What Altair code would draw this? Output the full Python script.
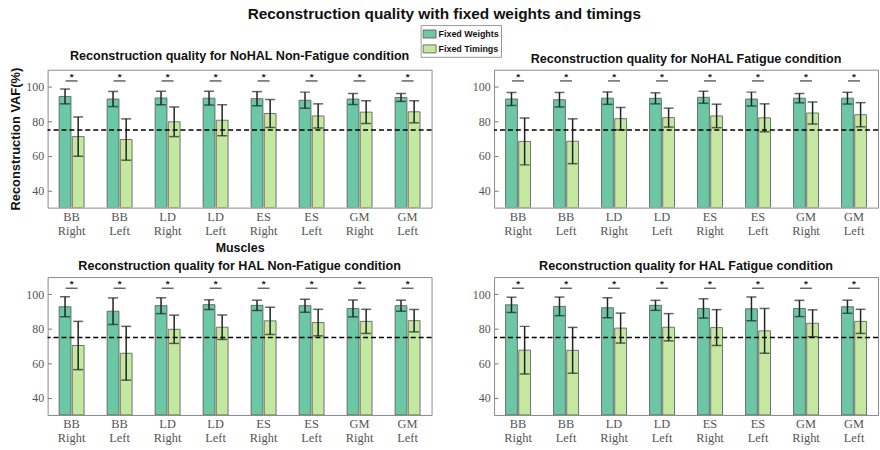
import altair as alt
import pandas as pd

# ---- data -------------------------------------------------------------
muscles = ["BB Right", "BB Left", "LD Right", "LD Left",
           "ES Right", "ES Left", "GM Right", "GM Left"]
series = ["Fixed Weights", "Fixed Timings"]
series_colors = ["#6cc8a4", "#c4e8a0"]
threshold = 75

# NoHAL, non-fatigue
nohal_nf_fw = [94.5, 93.0, 93.6, 93.5, 93.2, 92.3, 93.0, 93.9]
nohal_nf_fw_sd = [4.3, 4.4, 3.9, 4.0, 4.1, 4.7, 3.2, 2.3]
nohal_nf_ft = [71.2, 69.5, 79.8, 80.7, 84.6, 83.2, 85.4, 85.6]
nohal_nf_ft_sd = [11.4, 12.0, 8.6, 9.0, 8.1, 7.0, 6.6, 6.4]

# NoHAL, fatigue
nohal_f_fw = [93.0, 92.6, 93.5, 93.4, 94.0, 93.0, 93.5, 93.5]
nohal_f_fw_sd = [3.8, 4.2, 3.6, 3.2, 3.5, 4.0, 2.7, 3.4]
nohal_f_ft = [68.4, 68.5, 81.6, 82.2, 83.2, 82.1, 84.9, 83.9]
nohal_f_ft_sd = [13.6, 13.0, 6.5, 5.5, 6.8, 8.1, 6.4, 7.0]

# HAL, non-fatigue
hal_nf_fw = [92.8, 90.2, 93.4, 94.0, 93.6, 93.4, 91.8, 93.4]
hal_nf_fw_sd = [5.8, 7.7, 4.6, 2.8, 3.0, 3.8, 4.9, 3.2]
hal_nf_ft = [70.3, 65.8, 79.7, 80.9, 84.6, 83.6, 84.3, 84.7]
hal_nf_ft_sd = [14.0, 15.6, 8.2, 7.1, 7.9, 7.7, 7.0, 6.5]

# HAL, fatigue
hal_f_fw = [93.9, 93.0, 92.2, 93.6, 91.8, 91.6, 91.8, 92.8]
hal_f_fw_sd = [4.4, 5.4, 5.8, 2.9, 5.6, 6.9, 4.7, 3.8]
hal_f_ft = [67.6, 67.5, 80.4, 80.9, 80.7, 78.8, 83.2, 84.3]
hal_f_ft_sd = [13.8, 13.3, 8.7, 7.9, 10.4, 13.0, 7.8, 7.0]

SANS = "Liberation Sans"
SERIF = "Liberation Serif"
PANEL_W = 387
PANEL_H = 139


def make_frame(fw, fw_sd, ft, ft_sd):
    rows = []
    for i, m in enumerate(muscles):
        for s, mean, sd in ((series[0], fw[i], fw_sd[i]), (series[1], ft[i], ft_sd[i])):
            rows.append({"muscle": m, "series": s, "vaf": mean,
                         "lo": mean - sd, "hi": mean + sd})
    return pd.DataFrame(rows)


def panel(title, fw, fw_sd, ft, ft_sd, y_title=None, x_title=None):
    df = make_frame(fw, fw_sd, ft, ft_sd)
    base = alt.Chart(df)

    x = alt.X(
        "muscle:N", sort=muscles,
        scale=alt.Scale(paddingInner=0.48, paddingOuter=0.24),
        axis=alt.Axis(
            title=x_title, labelAngle=0, labelExpr="split(datum.label, ' ')",
            labelFont=SERIF, labelFontSize=12.5, labelColor="#555",
            labelLineHeight=14, labelPadding=3, ticks=False, domain=False,
            titleFont=SANS, titleFontSize=12.5, titleFontWeight="bold",
            titleColor="#111", titlePadding=5,
        ),
    )
    xo = alt.XOffset("series:N", sort=series, scale=alt.Scale(paddingInner=0.1))
    # ticks point into the frame: the axis sits 4px inside and its 4px ticks reach the edge
    y = alt.Y(
        "vaf:Q",
        scale=alt.Scale(domain=[30, 110], nice=False, zero=False),
        axis=alt.Axis(
            title=y_title, values=[40, 60, 80, 100], grid=False,
            labelFont=SERIF, labelFontSize=12, labelColor="#555",
            labelPadding=4, offset=-4, tickSize=4, tickColor="#777",
            tickWidth=1, domain=False,
            titleFont=SANS, titleFontSize=13, titleFontWeight="bold",
            titleColor="#111", titlePadding=3,
        ),
    )

    bars = base.mark_bar(stroke="#555", strokeWidth=0.8, clip=True).encode(
        x=x, xOffset=xo, y=y, y2=alt.datum(30),
        color=alt.Color(
            "series:N", sort=series,
            scale=alt.Scale(domain=series, range=series_colors),
            legend=alt.Legend(
                title=None, orient="none", legendX=376, legendY=-45,
                labelFont=SANS, labelFontSize=9, labelFontWeight="bold",
                labelColor="#111", symbolType="M-1,-0.62L1,-0.62L1,0.62L-1,0.62Z",
                symbolSize=170, symbolStrokeColor="#555", symbolStrokeWidth=0.8,
                symbolOpacity=1, rowPadding=2, padding=2, strokeColor="#999",
                fillColor="white", labelOffset=2,
            ),
        ),
    )

    whisker = base.mark_rule(color="#222", strokeWidth=1.5).encode(
        x=x, xOffset=xo, y="lo:Q", y2="hi:Q")
    cap_hi = base.mark_tick(color="#222", thickness=1.5, size=10).encode(
        x=x, xOffset=xo, y="hi:Q")
    cap_lo = base.mark_tick(color="#222", thickness=1.5, size=10).encode(
        x=x, xOffset=xo, y="lo:Q")

    sig = base.transform_filter(alt.datum.series == series[0])
    bracket = sig.mark_tick(color="#222", thickness=1.5, size=12).encode(
        x=x, y=alt.datum(103.5))
    star = sig.mark_text(text="*", font=SANS, fontSize=10, fontWeight="bold",
                         color="#222", baseline="middle").encode(
        x=x, y=alt.datum(106))

    ref = alt.Chart(pd.DataFrame({"thr": [threshold]})).mark_rule(
        color="black", strokeWidth=1.5, strokeDash=[5, 3]).encode(y="thr:Q")

    return alt.layer(bars, whisker, cap_hi, cap_lo, ref, bracket, star).properties(
        width=PANEL_W, height=PANEL_H,
        title=alt.TitleParams(title, font=SANS, fontSize=12.7, fontWeight="bold",
                              color="#111", offset=4),
    )


p1 = panel("Reconstruction quality for NoHAL Non-Fatigue condition",
           nohal_nf_fw, nohal_nf_fw_sd, nohal_nf_ft, nohal_nf_ft_sd,
           y_title="Reconstruction VAF(%)", x_title="Muscles")
p2 = panel("Reconstruction quality for NoHAL Fatigue condition",
           nohal_f_fw, nohal_f_fw_sd, nohal_f_ft, nohal_f_ft_sd)
p3 = panel("Reconstruction quality for HAL Non-Fatigue condition",
           hal_nf_fw, hal_nf_fw_sd, hal_nf_ft, hal_nf_ft_sd)
p4 = panel("Reconstruction quality for HAL Fatigue condition",
           hal_f_fw, hal_f_fw_sd, hal_f_ft, hal_f_ft_sd)

chart = alt.concat(
    p1, p2, p3, p4, columns=2, spacing={"row": 70, "column": 63}, bounds="flush",
).properties(
    title=alt.TitleParams("Reconstruction quality with fixed weights and timings",
                          font=SANS, fontSize=15.5, fontWeight="bold",
                          color="#111", anchor="middle", offset=2),
    padding={"left": 9, "top": 5.5, "right": 0, "bottom": 0},
    background="white",
).configure_view(stroke="#8a8a8a", strokeWidth=1)

chart.save("out.html", embed_options={"renderer": "svg", "actions": False})
